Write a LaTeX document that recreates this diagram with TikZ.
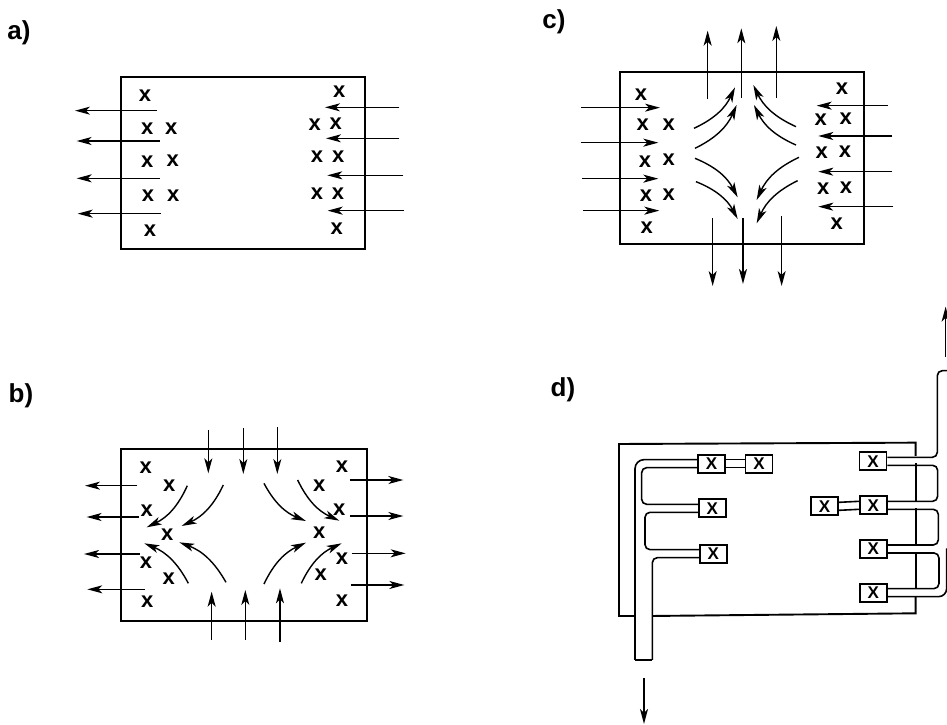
\documentclass[tikz,border=0pt]{standalone}
\usepackage{fontspec}
\setmainfont{Liberation Sans}
\usetikzlibrary{arrows.meta}
\tikzset{
  wall/.style={line width=1.9pt},
  flow/.style={line width=1.4pt,-{Stealth[length=15pt,width=8pt,inset=4pt]}},
  xmark/.style={inner sep=0pt,font=\bfseries\fontsize{22}{22}\selectfont},
  xbox/.style={draw,line width=1.8pt,fill=white,inner sep=0pt,minimum width=27pt,minimum height=18pt,font=\bfseries\fontsize{17}{17}\selectfont},
  duct/.style={line width=1.6pt,rounded corners=5pt},
  panel/.style={inner sep=0pt,font=\bfseries\fontsize{26}{26}\selectfont}
}
\begin{document}
\begin{tikzpicture}[x=1pt,y=-1pt]
\useasboundingbox (0,0) rectangle (947,724);
\node[panel] (la) at (19,33) {a)};
\node[panel] (lb) at (21,396) {b)};
\node[panel] (lc) at (554,22) {c)};
\node[panel] (ld) at (563,390) {d)};
% a
\begin{scope}[shift={(60,60)},scale=0.3333]
\draw[wall] (183,52) rectangle (915,567);
\foreach \y/\a/\b in {152/290/45,243/300/50,355/300/50,461/302/53,142/1018/795,235/1018/798,346/1030/802,452/1032/803} {\draw[flow] (\a,\y) -- (\b,\y);}
\foreach \x/\y [count=\n] in {255/108,262/207,334/205,262/304,338/303,264/408,340/408,270/512,838/95,764/194,827/192,771/290,835/290,771/401,834/400,830/505} {\node[xmark] (a\n) at (\x,\y) {x};}
\end{scope}
% b
\begin{scope}[shift={(60,420)},scale=0.3333]
\draw[wall] (183,88) rectangle (920,603);
\foreach \x/\a/\b in {445/30/160,550/25/162,652/22/162,455/660/515,556/660/510,660/665/505} {\draw[flow] (\x,\a) -- (\x,\b);}
\foreach \y/\a/\b in {197/232/75,291/237/80,402/240/72,508/255/82,180/870/1030,288/870/1030,400/875/1037,495/873/1033} {\draw[flow] (\a,\y) -- (\b,\y);}
\foreach \a/\b/\c/\d in {382/197/260/322,490/195/365/318,612/492/738/368,724/490/845/370} {\draw[flow] (\a,\b) to[bend left=20] (\c,\d);}
\foreach \a/\b/\c/\d in {385/490/253/370,498/487/358/367,612/190/738/303,713/180/838/302} {\draw[flow] (\a,\b) to[bend right=20] (\c,\d);}
\foreach \x/\y [count=\n] in {257/142,328/198,260/272,322/343,258/428,326/475,262/545,846/140,778/196,838/268,778/337,846/415,782/465,846/543} {\node[xmark] (b\n) at (\x,\y) {x};}
\end{scope}
% c
\begin{scope}[shift={(560,0)},scale=0.3333]
\draw[wall] (180,215) rectangle (913,732);
\foreach \x/\a/\b in {443/298/92,544/293/85,649/293/78,458/655/858,549/655/852,665/648/858} {\draw[flow] (\x,\a) -- (\x,\b);}
\foreach \y/\a/\b in {323/63/300,428/62/295,536/67/295,632/70/298,317/983/770,408/997/775,515/997/775,620/1000/775} {\draw[flow] (\a,\y) -- (\b,\y);}
\foreach \a/\b/\c/\d in {402/385/525/262,405/445/530/315,717/472/590/600,713/542/590/670} {\draw[flow] (\a,\b) to[bend right=20] (\c,\d);}
\foreach \a/\b/\c/\d in {708/380/580/255,708/435/582/315,405/475/533/592,408/545/533/657} {\draw[flow] (\a,\b) to[bend left=20] (\c,\d);}
\foreach \x/\y [count=\n] in {243/285,248/375,326/373,255/484,326/480,258/586,326/583,260/684,846/267,782/360,857/357,785/457,855/455,790/567,858/563,830/670} {\node[xmark] (c\n) at (\x,\y) {x};}
\end{scope}
% d
\begin{scope}[shift={(600,300)},scale=0.3333]
\draw[wall] (105,948) -- (57,948) -- (57,432) -- (947,428) -- (947,468);
\draw[wall] (157,948) -- (947,940) -- (947,890);
\foreach \a/\b in {490/603,625/737,760/868} {\draw[wall] (947,\a) -- (947,\b);}
\foreach \x/\y/\n in {335/491/a,477/491/b,337/625/c,340/761/d,819/484/e,820/616/f,674/619/g,820/747/h,820/878/i} {\node[xbox] (box\n) at (\x,\y) {X};}
\coordinate (ductl) at (105,1080);
\coordinate (ductr) at (157,1080);
\coordinate (ductt) at (1042,212);
\coordinate (ducte) at (1040,745);
\draw[wall] (ductl) -- (ductr);
\draw[duct,rounded corners=9pt] (ductl) |- ([yshift=12pt]boxa.west);
\draw[duct] ([yshift=-12pt]boxa.west) -| (125,560) |- ([yshift=12pt]boxc.west);
\draw[duct] ([yshift=-12pt]boxc.west) -| (135,700) |- ([yshift=12pt]boxd.west);
\draw[duct] ([yshift=-12pt]boxd.west) -| (ductr);
\draw[duct] ([yshift=12pt]boxe.east) -| (1012,350) |- (ductt);
\draw[duct] ([yshift=-12pt]boxe.east) -| (1013,540) |- ([yshift=12pt]boxf.east);
\draw[duct] ([yshift=-12pt]boxf.east) -| (1015,680) |- ([yshift=12pt]boxh.east);
\draw[duct] ([yshift=-12pt]boxh.east) -| (1017,810) |- ([yshift=12pt]boxi.east);
\draw[duct,rounded corners=8pt] ([yshift=-12pt]boxi.east) -| (ducte);
\foreach \s in {12pt,-12pt} {
  \draw[line width=1.6pt] ([yshift=\s]boxa.east) -- ([yshift=\s]boxb.west);
  \draw[line width=1.6pt] ([yshift=\s]boxg.east) -- ([yshift=\s]boxf.west);
}
\draw[flow] (132,1135) -- (132,1272);
\draw[flow] (1037,170) -- (1037,20);
\end{scope}
\end{tikzpicture}
\end{document}
